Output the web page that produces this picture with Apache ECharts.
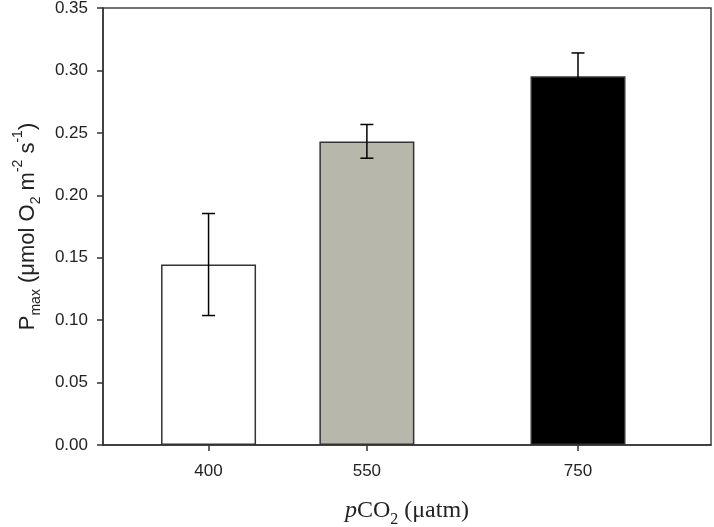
<!DOCTYPE html>
<html>
<head>
<meta charset="utf-8">
<script src="https://cdn.jsdelivr.net/npm/echarts@6/dist/echarts.min.js"></script>
<style>html,body{margin:0;padding:0;background:#fff}#c{width:714px;height:527px}</style>
</head>
<body>
<div id="c"></div>
<script>
var co2Levels = [400, 550, 750];
var pmaxMean = [0.1446, 0.2430, 0.2953];
var errLow = [0.1037, 0.2297, 0.2760];
var errHigh = [0.1854, 0.2567, 0.3140];
var barColors = ['#ffffff', '#b7b7ab', '#000000'];

var chart = echarts.init(document.getElementById('c'), null, {renderer: 'canvas'});
var sans = 'Liberation Sans, Arial, sans-serif';
var serif = 'Liberation Serif, Times New Roman, serif';
var barData = co2Levels.map(function (x, i) {
  return {value: [x, pmaxMean[i]], itemStyle: {color: barColors[i]}};
});
var errData = co2Levels.map(function (x, i) { return [x, errLow[i], errHigh[i]]; });

chart.setOption({
  animation: false,
  grid: {left: 103, right: 3, top: 8, bottom: 82, containLabel: false, outerBoundsMode: 'none',
         show: true, borderColor: '#444', borderWidth: 1.5, backgroundColor: 'transparent'},
  xAxis: {
    type: 'value', min: 300, max: 876,
    splitLine: {show: false},
    axisLine: {show: true, onZero: false, lineStyle: {color: '#333', width: 1.5}},
    axisTick: {show: true, inside: false, length: 6, customValues: co2Levels, lineStyle: {color: '#333', width: 1.5}},
    axisLabel: {customValues: co2Levels, margin: 18, fontFamily: sans, fontSize: 17, color: '#222'},
    name: '{i|p}{n|CO}{s|2}{n| (μatm)}',
    nameLocation: 'middle', nameGap: 52,
    nameTextStyle: {
      rich: {
        i: {fontFamily: serif, fontStyle: 'italic', fontSize: 24, color: '#222', lineHeight: 26, verticalAlign: 'bottom'},
        n: {fontFamily: serif, fontSize: 24, color: '#222', lineHeight: 26, verticalAlign: 'bottom'},
        s: {fontFamily: serif, fontSize: 16, color: '#222', lineHeight: 16, verticalAlign: 'bottom', padding: [0, 0, -5, 0]}
      }
    }
  },
  yAxis: {
    type: 'value', min: 0, max: 0.35, interval: 0.05,
    splitLine: {show: false},
    axisLine: {show: true, lineStyle: {color: '#333', width: 1.5}},
    axisTick: {show: true, inside: false, length: 6, lineStyle: {color: '#333', width: 1.5}},
    axisLabel: {margin: 15, fontFamily: sans, fontSize: 17, color: '#222', formatter: function (v) { return v.toFixed(2); }},
    name: '{n|P}{s|max}{n| (μmol O}{s|2}{n| m}{p|-2}{n| s}{p|-1}{n|)}',
    nameLocation: 'middle', nameGap: 64,
    nameTextStyle: {
      rich: {
        n: {fontFamily: sans, fontSize: 22, color: '#222', lineHeight: 26, verticalAlign: 'bottom'},
        s: {fontFamily: sans, fontSize: 14, color: '#222', lineHeight: 14, verticalAlign: 'bottom', padding: [0, 0, -4, 0]},
        p: {fontFamily: sans, fontSize: 14, color: '#222', lineHeight: 14, verticalAlign: 'top', padding: [-2, 0, 0, 0]}
      }
    }
  },
  series: [
    {
      type: 'bar', data: barData, barWidth: 95,
      itemStyle: {borderColor: '#333', borderWidth: 1.5}
    },
    {
      type: 'custom', data: errData, z: 5,
      renderItem: function (params, api) {
        var x = api.value(0);
        var lo = api.coord([x, api.value(1)]);
        var hi = api.coord([x, api.value(2)]);
        var hw = 6.5;
        var st = {stroke: '#000', lineWidth: 1.5};
        return {type: 'group', children: [
          {type: 'line', shape: {x1: lo[0], y1: lo[1], x2: hi[0], y2: hi[1]}, style: st},
          {type: 'line', shape: {x1: hi[0] - hw, y1: hi[1], x2: hi[0] + hw, y2: hi[1]}, style: st},
          {type: 'line', shape: {x1: lo[0] - hw, y1: lo[1], x2: lo[0] + hw, y2: lo[1]}, style: st}
        ]};
      }
    }
  ]
});
</script>
</body>
</html>
